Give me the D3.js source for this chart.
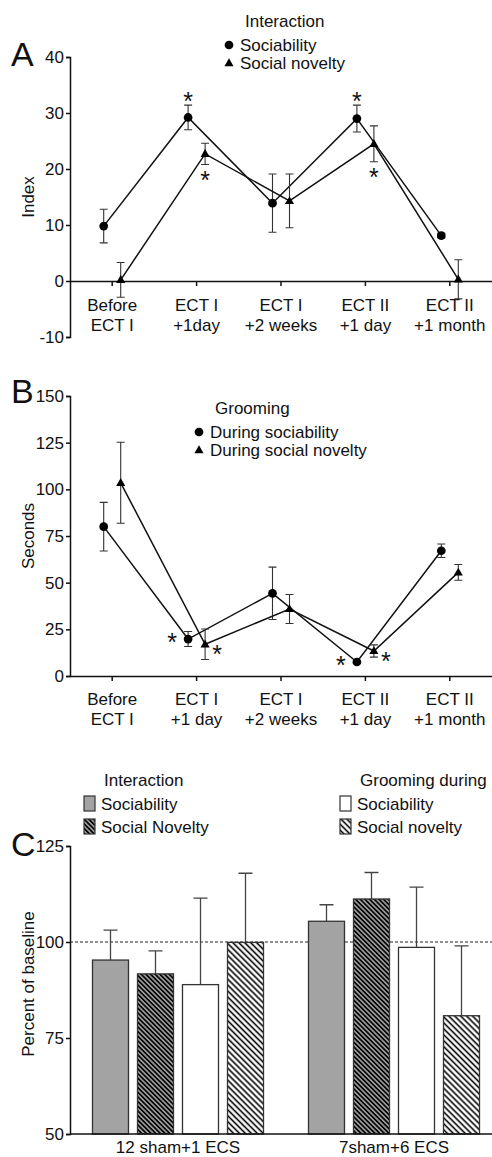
<!DOCTYPE html>
<html>
<head>
<meta charset="utf-8">
<script src="https://cdn.jsdelivr.net/npm/d3@7"></script>
<style>
  body { margin: 0; background: #fff; }
  svg text { font-family: "Liberation Sans", Arial, sans-serif; fill: #111; }
</style>
</head>
<body>
<script>
// ---- data ----
var catsA = [["Before", "ECT I"], ["ECT I", "+1day"], ["ECT I", "+2 weeks"], ["ECT II", "+1 day"], ["ECT II", "+1 month"]];
var catsB = [["Before", "ECT I"], ["ECT I", "+1 day"], ["ECT I", "+2 weeks"], ["ECT II", "+1 day"], ["ECT II", "+1 month"]];

var sociabilityA = [9.8, 29.2, 13.9, 29.0, 8.1];
var sociabilityErrA = [3.0, 2.2, 5.2, 2.4, 0.4];
var noveltyA = [0.2, 22.7, 14.3, 24.5, 0.3];
var noveltyErrA = [3.1, 1.9, 4.8, 3.2, 3.5];
var ticksA = [-10, 0, 10, 20, 30, 40];

var sociabilityB = [80, 19.8, 44.3, 7.5, 67.1];
var sociabilityErrB = [13, 4, 14, 0.8, 3.6];
var noveltyB = [103.5, 17, 35.9, 13.4, 55.5];
var noveltyErrB = [21.7, 8.2, 7.8, 3.3, 4.2];
var ticksB = [0, 25, 50, 75, 100, 125, 150];

// significance marks: category index, series (0 sociability, 1 novelty), side
var starsA = [[1, 0, "top"], [1, 1, "bottom"], [3, 0, "top"], [3, 1, "bottom"]];
var starsB = [[1, 0, "left"], [1, 1, "right"], [3, 0, "left"], [3, 1, "right"]];

var groupsC = ["12 sham+1 ECS", "7sham+6 ECS"];
var seriesC = ["Sociability", "Social Novelty", "Grooming sociability", "Grooming social novelty"];
var interSociabilityC = [95.3, 105.4];
var interSociabilityErrC = [7.8, 4.3];
var interNoveltyC = [91.7, 111.2];
var interNoveltyErrC = [6.0, 6.9];
var groomSociabilityC = [88.9, 98.6];
var groomSociabilityErrC = [22.5, 15.7];
var groomNoveltyC = [99.9, 80.8];
var groomNoveltyErrC = [18.0, 18.2];
var ticksC = [50, 75, 100, 125];

var W = 492, H = 1157;
var svg = d3.select("body").append("svg")
    .attr("width", W)
    .attr("height", H);

// hatch patterns
var defs = svg.append("defs");
function hatch(id, gap, sw, bg) {
  var p = defs.append("pattern")
      .attr("id", id)
      .attr("patternUnits", "userSpaceOnUse")
      .attr("width", gap).attr("height", gap)
      .attr("patternTransform", "rotate(45)");
  p.append("rect").attr("width", gap).attr("height", gap).attr("fill", bg);
  p.append("line").attr("x1", 0).attr("y1", gap / 2).attr("x2", gap).attr("y2", gap / 2)
      .attr("stroke", "#000").attr("stroke-width", sw);
}
hatch("darkHatch", 3.3, 1.6, "#9a9a9a");
hatch("lightHatch", 4.2, 1.6, "#fff");

var fillsC = ["#a3a3a3", "url(#darkHatch)", "#fff", "url(#lightHatch)"];
var fmt = function(d) { return String(d); };

function drawLinePanel(o) {
  var g = svg.append("g");
  var x = d3.scaleBand().domain(d3.range(o.cats.length)).range([70, 492]);
  var y = d3.scaleLinear().domain(o.domain).range(o.range);
  var offs = [-8.5, 8.5];

  // y axis
  g.append("g")
      .attr("transform", "translate(70,0)")
      .call(d3.axisLeft(y).tickValues(o.ticks).tickFormat(fmt).tickSize(4).tickSizeOuter(4).tickPadding(2))
      .call(function(a) {
        a.selectAll("text").attr("font-size", 17).attr("fill", "#111");
        a.selectAll("path,line").attr("stroke", "#111").attr("stroke-width", 1.5);
      });

  // x axis
  var xa = g.append("g")
      .attr("transform", "translate(0," + y(0) + ")")
      .call(d3.axisBottom(x).tickSize(5).tickSizeOuter(0).tickFormat(""));
  xa.selectAll("path,line").attr("stroke", "#111").attr("stroke-width", 1.5);

  o.cats.forEach(function(c, i) {
    var t = g.append("text")
        .attr("x", x(i) + x.bandwidth() / 2)
        .attr("y", o.labelY)
        .attr("text-anchor", "middle")
        .attr("font-size", 17);
    c.forEach(function(s, k) {
      t.append("tspan").attr("x", x(i) + x.bandwidth() / 2).attr("dy", k ? 20 : 0).text(s);
    });
  });

  var series = [[o.s1, o.e1], [o.s2, o.e2]];
  series.forEach(function(s, si) {
    var px = function(i) { return x(i) + x.bandwidth() / 2 + offs[si]; };
    var line = d3.line().x(function(d, i) { return px(i); }).y(function(d) { return y(d); });
    g.append("path").datum(s[0])
        .attr("d", line)
        .attr("fill", "none")
        .attr("stroke", "#111")
        .attr("stroke-width", 1.5);
    // error bars
    s[0].forEach(function(v, i) {
      var hi = y(v + s[1][i]), lo = y(v - s[1][i]), cx = px(i);
      g.append("path")
          .attr("d", "M" + (cx - 4) + "," + hi + "H" + (cx + 4) + "M" + cx + "," + hi + "V" + lo +
                "M" + (cx - 4) + "," + lo + "H" + (cx + 4))
          .attr("stroke", "#333").attr("stroke-width", 1.1).attr("fill", "none");
    });
    var sym = d3.symbol().type(si ? d3.symbolTriangle : d3.symbolCircle).size(si ? 36 : 60);
    g.selectAll(null).data(s[0]).enter().append("path")
        .attr("d", sym)
        .attr("transform", function(d, i) { return "translate(" + px(i) + "," + (y(d) + (si ? 0.5 : 0)) + ")"; })
        .attr("fill", "#000");
  });

  // significance stars
  o.stars.forEach(function(st) {
    var i = st[0], si = st[1];
    var v = series[si][0][i], e = series[si][1][i];
    var cx = x(i) + x.bandwidth() / 2 + offs[si], cy = y(v);
    if (st[2] === "top") cy = y(v + e) - 9;
    if (st[2] === "bottom") cy = y(v - e) + 10;
    if (st[2] === "left") { cx -= 16; cy -= 2; }
    if (st[2] === "right") { cx += 12; cy += 5; }
    g.append("text")
        .attr("x", cx).attr("y", cy + 14)
        .attr("text-anchor", "middle")
        .attr("font-size", 25)
        .text("*");
  });

  // legend
  g.append("text").attr("x", o.leg[0] + 16).attr("y", o.leg[1]).attr("font-size", 17).text(o.legTitle);
  o.legItems.forEach(function(t, k) {
    var ly = o.leg[1] + 24 + k * 18 - 6;
    g.append("path")
        .attr("d", d3.symbol().type(k ? d3.symbolTriangle : d3.symbolCircle).size(k ? 36 : 60))
        .attr("transform", "translate(" + o.leg[0] + "," + (ly + (k ? 0.5 : 0)) + ")")
        .attr("fill", "#000");
    g.append("text").attr("x", o.leg[0] + 11).attr("y", ly + 6).attr("font-size", 17).text(t);
  });

  // y label and panel letter
  g.append("text")
      .attr("transform", "translate(34," + o.ylabelY + ") rotate(-90)")
      .attr("text-anchor", "middle")
      .attr("font-size", 17)
      .text(o.ylabel);
  g.append("text").attr("x", 11).attr("y", o.letterY).attr("font-size", 34).text(o.letter);
}

drawLinePanel({
  cats: catsA, s1: sociabilityA, e1: sociabilityErrA, s2: noveltyA, e2: noveltyErrA,
  domain: [-10, 40], range: [337, 57], ticks: ticksA, labelY: 311,
  stars: starsA, leg: [229, 27], legTitle: "Interaction", legItems: ["Sociability", "Social novelty"],
  ylabel: "Index", ylabelY: 197, letter: "A", letterY: 66
});

drawLinePanel({
  cats: catsB, s1: sociabilityB, e1: sociabilityErrB, s2: noveltyB, e2: noveltyErrB,
  domain: [0, 150], range: [676, 396], ticks: ticksB, labelY: 705,
  stars: starsB, leg: [199, 414], legTitle: "Grooming", legItems: ["During sociability", "During social novelty"],
  ylabel: "Seconds", ylabelY: 536, letter: "B", letterY: 403
});

// ---- panel C ----
var gc = svg.append("g");
var x0 = d3.scaleBand().domain(groupsC).range([70, 502]);
var x1 = d3.scaleBand().domain(d3.range(4)).range([0, x0.bandwidth()]).paddingInner(0.2).paddingOuter(0.5);
var yC = d3.scaleLinear().domain([50, 125]).range([1134, 846]);
var valsC = [interSociabilityC, interNoveltyC, groomSociabilityC, groomNoveltyC];
var errsC = [interSociabilityErrC, interNoveltyErrC, groomSociabilityErrC, groomNoveltyErrC];

gc.append("g")
    .attr("transform", "translate(70,0)")
    .call(d3.axisLeft(yC).tickValues(ticksC).tickFormat(fmt).tickSize(4).tickSizeOuter(4).tickPadding(2))
    .call(function(a) {
      a.selectAll("text").attr("font-size", 17).attr("fill", "#111");
      a.selectAll("path,line").attr("stroke", "#111").attr("stroke-width", 1.5);
    });

gc.append("line")
    .attr("x1", 70).attr("x2", W)
    .attr("y1", yC(100)).attr("y2", yC(100))
    .attr("stroke", "#222").attr("stroke-width", 1).attr("stroke-dasharray", "3,2");

groupsC.forEach(function(gname, gi) {
  valsC.forEach(function(vals, si) {
    var bx = x0(gname) + x1(si), bw = x1.bandwidth(), cx = bx + bw / 2;
    var top = yC(vals[gi] + errsC[si][gi]);
    gc.append("path")
        .attr("d", "M" + (cx - 7) + "," + top + "H" + (cx + 7) + "M" + cx + "," + top + "V" + yC(vals[gi]))
        .attr("stroke", "#444").attr("stroke-width", 1.3);
    gc.append("rect")
        .attr("x", bx).attr("width", bw)
        .attr("y", yC(vals[gi]))
        .attr("height", yC(50) - yC(vals[gi]))
        .attr("fill", fillsC[si])
        .attr("stroke", "#333").attr("stroke-width", 1.3);
  });
  gc.append("text")
      .attr("x", x0(gname) + x0.bandwidth() / 2)
      .attr("y", 1153)
      .attr("text-anchor", "middle")
      .attr("font-size", 17)
      .text(gname);
});

gc.append("line")
    .attr("x1", 70).attr("x2", W)
    .attr("y1", yC(50)).attr("y2", yC(50))
    .attr("stroke", "#111").attr("stroke-width", 1.5);

// legends C
function legendC(lx, title, items, fills) {
  gc.append("text").attr("x", lx + 20).attr("y", 786).attr("font-size", 17).text(title);
  items.forEach(function(t, k) {
    var ly = 796 + k * 23;
    gc.append("rect").attr("x", lx).attr("y", ly).attr("width", 11).attr("height", 15)
        .attr("fill", fills[k]).attr("stroke", "#333").attr("stroke-width", 1.2);
    gc.append("text").attr("x", lx + 17).attr("y", ly + 14).attr("font-size", 17).text(t);
  });
}
legendC(84, "Interaction", [seriesC[0], seriesC[1]], [fillsC[0], fillsC[1]]);
legendC(340, "Grooming during", ["Sociability", "Social novelty"], [fillsC[2], fillsC[3]]);

gc.append("text")
    .attr("transform", "translate(34,984) rotate(-90)")
    .attr("text-anchor", "middle")
    .attr("font-size", 17)
    .text("Percent of baseline");
gc.append("text").attr("x", 11).attr("y", 856).attr("font-size", 34).text("C");
</script>
</body>
</html>
